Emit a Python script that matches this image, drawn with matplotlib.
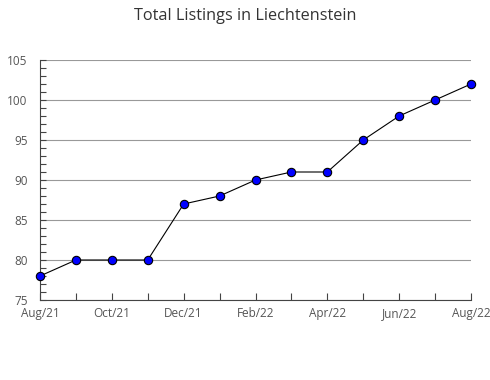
import matplotlib
matplotlib.use('Agg')
import matplotlib.pyplot as plt
from matplotlib.ticker import MultipleLocator

plt.rcParams['font.family'] = ['Open Sans', 'DejaVu Sans']

months = ['Aug/21', 'Sep/21', 'Oct/21', 'Nov/21', 'Dec/21', 'Jan/22', 'Feb/22',
          'Mar/22', 'Apr/22', 'May/22', 'Jun/22', 'Jul/22', 'Aug/22']
listings = [78, 80, 80, 80, 87, 88, 90, 91, 91, 95, 98, 100, 102]

fig = plt.figure(figsize=(4.9, 3.8), dpi=100)
ax = fig.add_axes([40 / 490, 1 - 300 / 380, 431 / 490, 240 / 380])

x = list(range(len(months)))
ax.plot(x, listings, color='black', linewidth=0.8, marker='o', markersize=6,
        markerfacecolor='#0000ff', markeredgecolor='black', markeredgewidth=0.8,
        zorder=3, clip_on=False)

ax.set_xlim(0, len(months) - 1)
ax.set_ylim(75, 105)
ax.set_xticks(x[::2])
ax.set_xticklabels(months[::2])
ax.xaxis.set_minor_locator(MultipleLocator(1))
ax.yaxis.set_major_locator(MultipleLocator(5))
ax.yaxis.set_minor_locator(MultipleLocator(1))

ax.grid(axis='y', which='major', color='#999999', linewidth=0.8)
ax.set_axisbelow(True)
for s in ['top', 'right']:
    ax.spines[s].set_visible(False)
for s in ['left', 'bottom']:
    ax.spines[s].set_color('#444444')
    ax.spines[s].set_linewidth(0.8)

ax.tick_params(axis='both', which='both', direction='in', color='#444444',
               labelsize=8.5, labelcolor='#555555', width=0.8)
ax.tick_params(axis='y', which='both', length=4, pad=9)
ax.tick_params(axis='x', which='both', length=5, pad=5)

fig.text(0.5, 1 - 16 / 380, 'Total Listings in Liechtenstein', ha='center',
         va='center', fontsize=11.7, color='#333333')

fig.savefig('out.png', dpi=100)
